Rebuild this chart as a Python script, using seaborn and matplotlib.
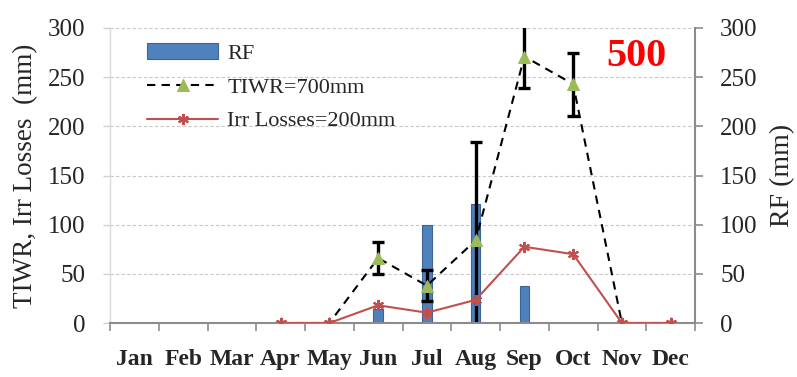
import numpy as np
import pandas as pd
import matplotlib
matplotlib.use("Agg")
import matplotlib.pyplot as plt
from matplotlib.ticker import FixedLocator
import seaborn as sns

# Monthly values (mm)
months = ["Jan", "Feb", "Mar", "Apr", "May", "Jun",
          "Jul", "Aug", "Sep", "Oct", "Nov", "Dec"]
rf = [0, 0, 0, 0, 0, 14, 100, 121, 38, 0, 0, 0]
tiwr = [np.nan, np.nan, np.nan, 0, 0, 66, 38, 84, 271, 243, 0, 0]
tiwr_err = [np.nan, np.nan, np.nan, np.nan, np.nan, 16, 16, 100, 32, 32, np.nan, np.nan]
irr_losses = [np.nan, np.nan, np.nan, 0, 0, 18, 10.5, 23.5, 77.5, 70, 0, 0]
y_ticks = [0, 50, 100, 150, 200, 250, 300]

sns.set_theme(style="white")
plt.rcParams["font.family"] = ["Liberation Serif", "DejaVu Serif"]

df = pd.DataFrame({
    "month": months,
    "pos": np.arange(len(months)),
    "rf": rf,
    "tiwr": tiwr,
    "err": tiwr_err,
    "irr": irr_losses,
})

fig = plt.figure(figsize=(7.97, 3.77), dpi=100)
ax = fig.add_axes([110 / 797, 1 - 323 / 377, 585 / 797, 295 / 377])
ax2 = ax.twinx()

# Rainfall bars on the secondary axis, kept underneath the lines
sns.barplot(data=df, x="month", y="rf", ax=ax2, color="#4F81BD",
            width=0.19, edgecolor="#3A6596", linewidth=0.8,
            saturation=1, label="RF")
ax.set_zorder(ax2.get_zorder() + 1)
ax.patch.set_visible(False)

# Error bars for TIWR
ax.errorbar(df["pos"], df["tiwr"], yerr=df["err"], fmt="none",
            ecolor="black", elinewidth=2.4, capsize=4.5, capthick=2.4,
            zorder=2)

sns.lineplot(data=df, x="pos", y="tiwr", ax=ax, color="black",
             linestyle=(0, (4, 3)), linewidth=1.5, marker="^",
             markersize=8, markerfacecolor="#9BBB59",
             markeredgecolor="#9BBB59", label="TIWR=700mm", zorder=3)
sns.lineplot(data=df, x="pos", y="irr", ax=ax, color="#C0504D",
             linewidth=1.5, marker=(6, 2, 0), markersize=8,
             markeredgewidth=1.5, markeredgecolor="#C0504D",
             label="Irr Losses=200mm", zorder=4)

for a in (ax, ax2):
    a.set_ylim(0, 300)
    a.set_yticks(y_ticks)
ax.set_xlim(-0.5, len(months) - 0.5)

# Horizontal gridlines drawn behind the bars
ax2.yaxis.grid(True, color="#C8C8C8", linestyle=(0, (3, 2)), linewidth=0.8)
ax2.set_axisbelow(True)
ax.grid(False)

# Month labels at the centres, tick marks at the category boundaries
ax.set_xticks(np.arange(len(months)))
ax.set_xticklabels(months, fontweight="bold", fontsize=17)
ax.xaxis.set_minor_locator(FixedLocator(np.arange(-0.5, len(months), 1.0)))
ax.tick_params(axis="x", which="major", length=0, pad=19)
ax.tick_params(axis="x", which="minor", length=6, width=1.2,
               color="#8C8C8C", direction="out", bottom=True)
ax.set_xlabel("")
ax2.set_xlabel("")

ax.tick_params(axis="y", which="major", length=5, width=1, color="#D0D0D0",
               labelsize=18, pad=13, left=True)
ax2.tick_params(axis="y", which="major", length=6, width=1.2,
                color="#8C8C8C", labelsize=18, pad=12, right=True)

ax.set_ylabel("TIWR, Irr Losses  (mm)", fontsize=19.5, labelpad=7)
ax2.set_ylabel("RF (mm)", fontsize=20, labelpad=9)

for name in ("top", "right"):
    ax.spines[name].set_visible(False)
ax.spines["left"].set_color("#D9D9D9")
ax.spines["left"].set_linewidth(1)
ax.spines["bottom"].set_color("#8C8C8C")
ax.spines["bottom"].set_linewidth(1.5)
for name in ("top", "left", "bottom"):
    ax2.spines[name].set_visible(False)
ax2.spines["right"].set_color("#8C8C8C")
ax2.spines["right"].set_linewidth(1.5)

# Combined legend
h1, l1 = ax2.get_legend_handles_labels()
h2, l2 = ax.get_legend_handles_labels()
if ax2.get_legend() is not None:
    ax2.get_legend().remove()
ax.legend(h1 + h2, l1 + l2, loc="upper left",
          bbox_to_anchor=(136 / 797, 1 - 32 / 377),
          bbox_transform=fig.transFigure, frameon=False, fontsize=16,
          handlelength=3.2, handleheight=0.7, labelspacing=0.6,
          handletextpad=0.4, borderpad=0)

fig.text(636 / 797, 1 - 57 / 377, "500", color="red", fontsize=29,
         fontweight="bold", ha="center", va="center")

fig.savefig("out.png", dpi=100)
